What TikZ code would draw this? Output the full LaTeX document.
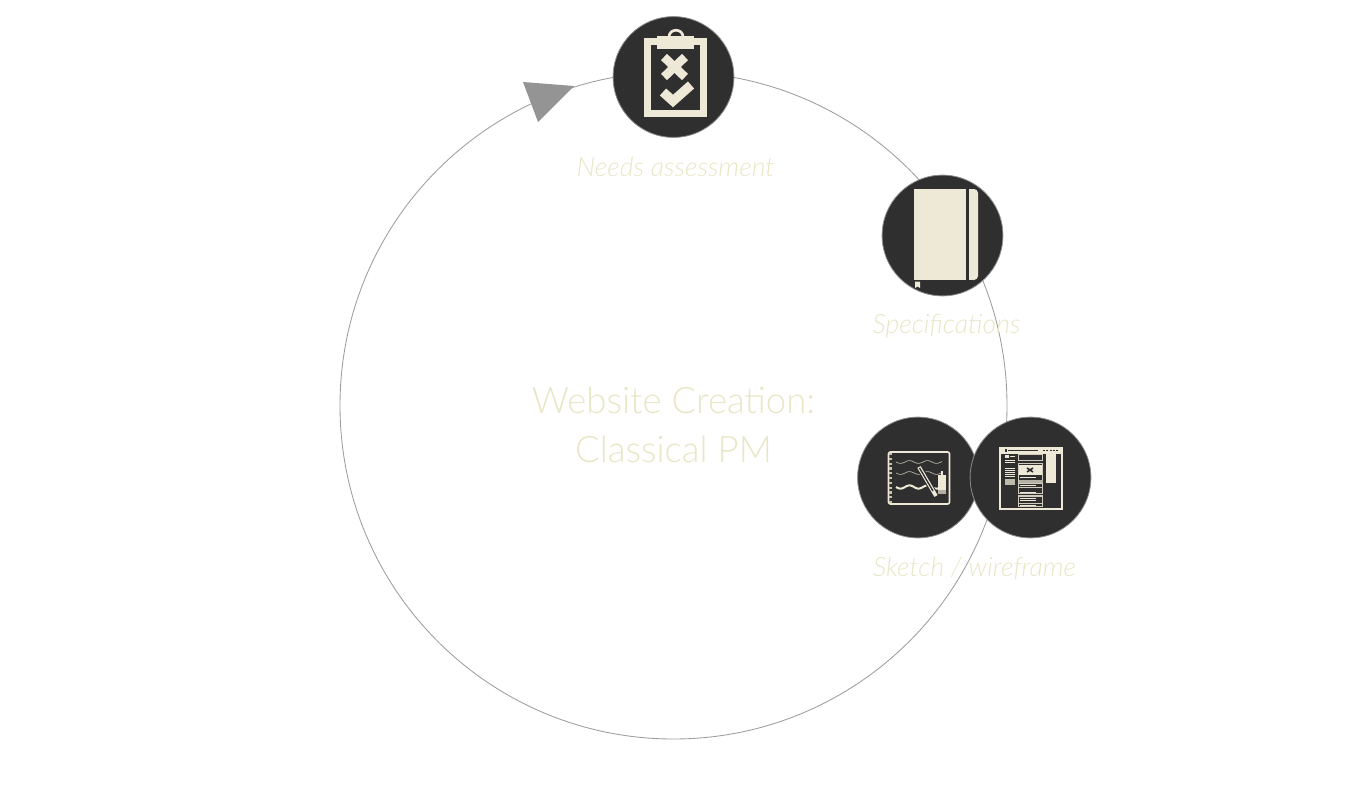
\documentclass[tikz,border=0pt]{standalone}
\usepackage{fontspec}
\setmainfont{Lato Light}[ItalicFont=Lato Light Italic]
\definecolor{cream}{HTML}{EEE8D6}
\definecolor{pale}{HTML}{E9E6C6}
\definecolor{coal}{HTML}{2F2F2F}
\tikzset{
stagedot/.style={circle,fill=coal,draw=black!45,line width=.6pt,minimum size=90.6pt,inner sep=0pt},
stagecap/.style={text=pale,font=\itshape\fontsize{20}{22}\selectfont,inner sep=0pt},
thinwave/.style={cream!75!coal,line width=.5pt,smooth},
}
\begin{document}
\begin{tikzpicture}[x=.75pt,y=-.75pt]
\useasboundingbox (0,0) rectangle (1346,811);
\coordinate (hub) at (673.5,405.5);
\draw[black!38,line width=.65pt] (hub) circle [radius=333.5];
\fill[black!42] (523,82) -- (574,86) -- (538,122) -- cycle;
\node[text=pale,align=center,font=\fontsize{27.4}{37}\selectfont,inner sep=0pt] (title) at (673.5,425) {Website Creation:\\Classical PM};
\node[stagecap] (needscap) at (675.5,167) {Needs assessment};
\node[stagecap] (speccap) at (946.5,326) {Specifications};
\node[stagecap] (sketchcap) at (974.5,568) {Sketch / wireframe};
\node[stagedot] (needs) at (673.5,77) {};
\node[stagedot] (spec) at (942.5,235.5) {};
\node[stagedot] (sketch) at (918,477.5) {};
\node[stagedot] (wire) at (1030.5,477.5) {};
% clipboard
\draw[cream,line width=5.2pt] (647.5,41.5) rectangle (703.5,113.5);
\fill[cream] (657,36) rectangle (694,49);
\draw[cream,line width=2pt] (669,37) .. controls (669,28) and (683,28) .. (683,37);
\draw[cream,line width=6.5pt] (664,57) -- (685,77) (685,57) -- (664,77);
\draw[cream,line width=7pt] (663,92) -- (673,101) -- (691,85);
% notebook
\fill[cream] (914,189) rectangle (966,280);
\fill[cream,rounded corners=3pt] (969,189) -- (978,189) -- (978,280) -- (969,280) -- cycle;
\fill[cream] (969,189) rectangle (972,280);
\fill[cream] (915,281.5) -- (920,281.5) -- (920,288) -- (917.5,286.5) -- (915,288) -- cycle;
% sketch
\draw[cream,line width=1.2pt,rounded corners=1.5pt] (888.5,452) rectangle (949.5,504);
\draw[cream!80!coal,line width=1.6pt,dotted] (890.5,453) -- (890.5,503);
\foreach \wy in {462,473}{
\draw[thinwave,domain=0:46,samples=40] plot ({896+\x},{\wy+1.4*sin(20*\x)});
}
\draw[cream,line width=1.5pt,smooth,domain=0:44,samples=40] plot ({896+\x},{487+1.6*sin(20*\x)});
\draw[coal,line width=4.4pt] (918,465) -- (937,498);
\draw[cream,line width=2.8pt] (919,467) -- (936,496);
\draw[coal,line width=1pt] (919.5,468) -- (933,491);
\fill[cream] (938,475) rectangle (946,490);
\fill[cream!70!coal] (938,490) rectangle (946,493.5);
\fill[cream] (941,475) rectangle (943,471);
% wireframe
\draw[cream,line width=1.5pt] (999.5,447.5) rectangle (1061.5,509);
\fill[cream] (999,447) rectangle (1062,453.5);
\fill[coal] (1005,449) rectangle (1006.5,451.5);
\fill[coal] (1008,449.5) rectangle (1038,451);
\foreach \bx in {1043,1046,1050,1053,1056}{
\fill[coal] (\bx,449.5) rectangle (\bx+2,451);
}
\fill[cream] (1046,454) rectangle (1056,483);
\fill[cream] (1005,455) rectangle (1008.5,458);
\fill[cream] (1010,455.5) rectangle (1015,457);
\foreach \ly in {459.5,462,468,470,472,474,476}{
\fill[cream] (1005,\ly) rectangle (1015,\ly+1);
}
\fill[cream!75!coal] (1005,479) rectangle (1015,485);
\foreach \ty/\th in {454/6,463/24,483/10,495/8,496/10}{
\draw[cream!85!coal,line width=.6pt] (1018.5,\ty) rectangle (1042.5,\ty+\th);
}
\fill[cream] (1019,465) rectangle (1042,475);
\draw[coal,line width=1.2pt] (1027,468) -- (1033,472) (1033,468) -- (1027,472);
\fill[cream!70!coal] (1018.5,480) rectangle (1042.5,483);
\foreach \ly in {477.5,485.5,492,498.5,500.5,505.5}{
\draw[cream,line width=.5pt] (1020,\ly) -- (1036,\ly);
}
\end{tikzpicture}
\end{document}
